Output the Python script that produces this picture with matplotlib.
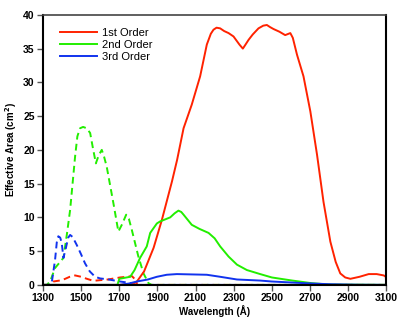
import numpy as np
import matplotlib
matplotlib.use("Agg")
import matplotlib.pyplot as plt

plt.rcParams["font.family"] = ["Liberation Sans", "DejaVu Sans"]

# 1st order (solid, long wavelength)
wl1 = [1300, 1700, 1760, 1790, 1830, 1880, 1923, 1976, 2003, 2037, 2080, 2124, 2159,
       2180, 2194, 2210, 2229, 2250, 2273, 2299, 2330, 2348, 2362, 2378, 2400, 2430,
       2455, 2474, 2490, 2509, 2540, 2570, 2597, 2610, 2632, 2666, 2702, 2737, 2771,
       2807, 2835, 2859, 2885, 2912, 2960, 3008, 3050, 3087, 3098, 3100]
ea1 = [0, 0, 0.1, 0.4, 2.0, 5.5, 9.6, 15.3, 18.5, 23.2, 26.7, 30.9, 35.6,
       37.2, 37.8, 38.1, 38.0, 37.6, 37.3, 36.8, 35.6, 35.0, 35.6, 36.3, 37.1, 38.0,
       38.4, 38.5, 38.2, 37.9, 37.5, 37.0, 37.3, 36.6, 34.1, 30.9, 25.7, 19.3, 12.3,
       6.4, 3.4, 1.7, 1.1, 0.9, 1.2, 1.6, 1.6, 1.4, 1.2, 0]

# 1st order (dashed, short wavelength)
wl1d = [1300, 1330, 1354, 1400, 1440, 1468, 1500, 1530, 1564, 1600, 1640, 1704, 1740,
        1766, 1780, 1795, 3100]
ea1d = [0, 0, 0.5, 0.7, 1.2, 1.4, 1.2, 0.9, 0.6, 0.7, 0.8, 1.1, 1.2,
        1.3, 0.9, 0, 0]

# 2nd order (solid)
wl2 = [1300, 1690, 1700, 1757, 1780, 1809, 1844, 1862, 1897, 1914, 1967, 1990, 2010,
       2025, 2037, 2080, 2120, 2168, 2200, 2229, 2273, 2317, 2369, 2439, 2500, 2605,
       2710, 2800, 3100]
ea2 = [0, 0, 0.9, 1.2, 2.2, 4.0, 5.7, 7.7, 9.1, 9.4, 10.0, 10.6, 11.0,
       10.8, 10.4, 8.9, 8.3, 7.7, 6.9, 5.7, 4.2, 3.0, 2.2, 1.6, 1.1, 0.65,
       0.25, 0.05, 0]

# 2nd order (dashed)
wl2d = [1300, 1320, 1337, 1363, 1407, 1425, 1442, 1468, 1480, 1494, 1510, 1529, 1547,
        1560, 1577, 1592, 1608, 1620, 1634, 1669, 1695, 1715, 1736, 1750, 1766, 1800,
        1827, 1853, 1870, 3100]
ea2d = [0, 0, 0.5, 2.5, 4.0, 7.5, 11.1, 19.0, 22.0, 23.2, 23.4, 23.2, 22.5,
        20.5, 18.0, 19.2, 20.0, 19.0, 17.5, 12.1, 7.9, 9.0, 10.4, 9.8, 8.1, 4.2,
        1.7, 0.25, 0, 0]

# 3rd order (solid)
wl3 = [1300, 1700, 1750, 1792, 1850, 1897, 1949, 2002, 2080, 2159, 2229, 2317, 2439,
       2500, 2675, 2800, 2950, 3100]
ea3 = [0, 0, 0.2, 0.5, 0.8, 1.2, 1.5, 1.6, 1.55, 1.5, 1.2, 0.8, 0.64,
       0.5, 0.25, 0.1, 0.02, 0]

# 3rd order (dashed)
wl3d = [1300, 1330, 1345, 1363, 1372, 1380, 1390, 1398, 1407, 1420, 1432, 1442, 1455,
        1477, 1500, 1520, 1545, 1573, 1600, 1634, 1704, 1766, 1785, 3100]
ea3d = [0, 0, 0.2, 3.7, 6.3, 7.2, 7.0, 6.2, 4.0, 5.5, 7.0, 7.4, 7.1,
        5.9, 4.5, 3.2, 2.0, 1.2, 0.95, 0.85, 0.5, 0.25, 0, 0]

red = "#ff2200"
green = "#22ee00"
blue = "#1133ee"

fig = plt.figure(figsize=(4.1, 3.23), dpi=100)
ax = fig.add_axes([0.105, 0.118, 0.837, 0.836])

lw = 1.4
dash = (0, (3.5, 2.2))
ax.plot(wl1d, ea1d, color=red, lw=lw, ls=dash)
ax.plot(wl2d, ea2d, color=green, lw=lw, ls=dash)
ax.plot(wl3d, ea3d, color=blue, lw=lw, ls=dash)
ax.plot(wl1, ea1, color=red, lw=lw, label="1st Order")
ax.plot(wl2, ea2, color=green, lw=lw, label="2nd Order")
ax.plot(wl3, ea3, color=blue, lw=lw, label="3rd Order")

ax.set_xlim(1300, 3100)
ax.set_ylim(0, 40)
ax.set_xticks(np.arange(1300, 3101, 200))
ax.set_yticks(np.arange(0, 41, 5))
ax.tick_params(direction="out", length=4, width=1, color="#555555",
               labelsize=7.5, pad=2)
for lab in ax.get_xticklabels() + ax.get_yticklabels():
    lab.set_fontweight("bold")
for s in ["left", "right", "bottom"]:
    ax.spines[s].set_linewidth(1.5)
    ax.spines[s].set_color("black")
ax.spines["top"].set_linewidth(1.2)
ax.spines["top"].set_color("#444444")

ax.set_xlabel("Wavelength (Å)", fontsize=7, fontweight="bold", labelpad=1)
ax.set_ylabel("Effective Area (cm$^\\mathbf{2}$)", fontsize=7, fontweight="bold", labelpad=3)

ax.legend(loc="upper left", bbox_to_anchor=(0.02, 0.99), frameon=False, fontsize=8,
          handlelength=3.3, handletextpad=0.45, labelspacing=0.2)

fig.savefig("out.png", dpi=100)
